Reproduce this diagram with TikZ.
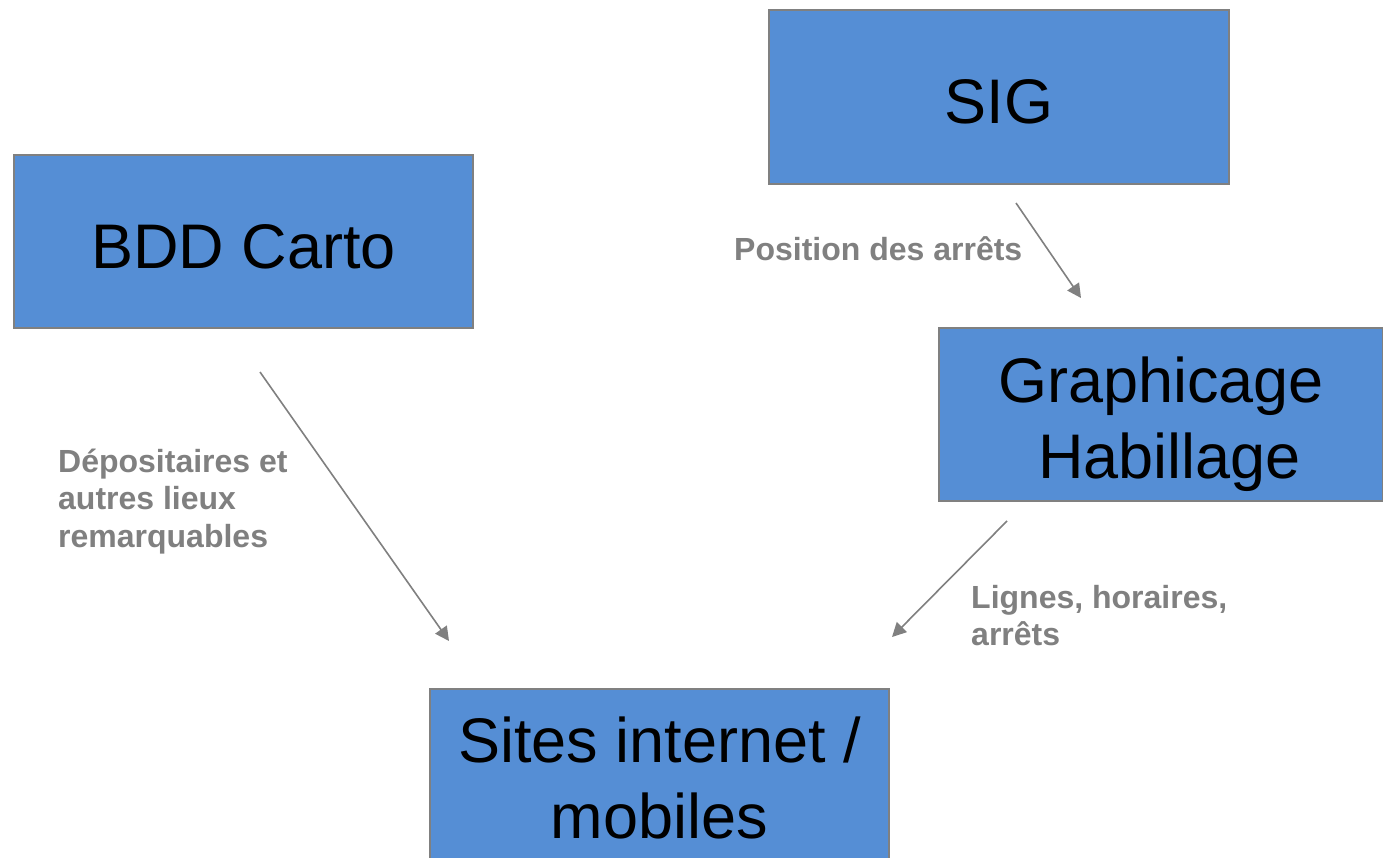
\documentclass[tikz,border=0pt]{standalone}
\usepackage{fontspec}
\setmainfont{Liberation Sans}
\usetikzlibrary{arrows.meta}
\definecolor{boxblue}{RGB}{85,142,213}
\definecolor{boxline}{RGB}{128,128,128}
\definecolor{arrowgray}{RGB}{128,128,128}
\definecolor{labelgray}{RGB}{128,128,128}
\tikzset{
  box/.style={draw=boxline, line width=1.2pt, fill=boxblue, inner sep=0pt,
    align=center, text=black, font=\fontsize{63}{76}\selectfont},
  flowarrow/.style={draw=arrowgray, line width=1.6pt,
    -{Triangle[length=14pt,width=14pt]}},
  flowlabel/.style={text=labelgray, inner sep=0pt, anchor=north west, align=left,
    font=\bfseries\fontsize{32}{37.5}\selectfont}
}
\begin{document}
\begin{tikzpicture}[x=1pt,y=-1pt]
\clip (0,0) rectangle (1383,858);
\fill[white] (0,0) rectangle (1383,858);
% boxes
\node[box, minimum width=460pt, minimum height=174pt] (sig) at (999,97) {\rule{0pt}{54pt}SIG};
\node[box, minimum width=459pt, minimum height=173pt] (bdd) at (243.5,241.5) {\rule{0pt}{54pt}BDD Carto};
\node[box, minimum width=444pt, minimum height=173pt] (graph) at (1161,414.5) {\rule{0pt}{64.5pt}Graphicage\\\hspace*{17.5pt}Habillage};
\node[box, minimum width=459pt, minimum height=174pt] (sites) at (659.5,776) {\rule{0pt}{49pt}Sites internet /\\mobiles};
% connector end points
\coordinate (sigout) at (1016,203);
\coordinate (graphin) at (1081,298);
\coordinate (bddout) at (260,372);
\coordinate (sitesinl) at (449,641);
\coordinate (graphout) at (1007,521);
\coordinate (sitesinr) at (892,637);
% connectors
\draw[flowarrow] (sigout) -- (graphin);
\draw[flowarrow] (bddout) -- (sitesinl);
\draw[flowarrow] (graphout) -- (sitesinr);
% labels
\node[flowlabel] (lblpos) at (734,234) {\rule{0pt}{26pt}Position des arrêts};
\node[flowlabel] (lbldep) at (58,446) {\rule{0pt}{26pt}Dépositaires et\\autres lieux\\remarquables};
\node[flowlabel] (lbllig) at (971,582) {\rule{0pt}{26pt}Lignes, horaires,\\arrêts};
\end{tikzpicture}
\end{document}
